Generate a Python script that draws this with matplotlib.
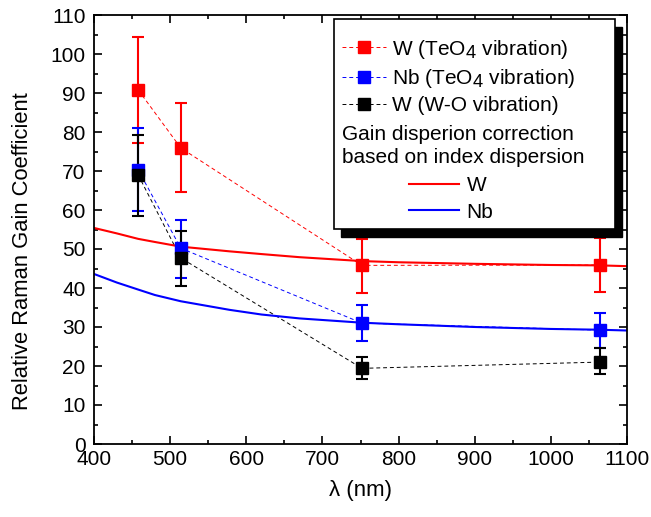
import matplotlib
matplotlib.use("Agg")
import matplotlib.pyplot as plt
import matplotlib._mathtext as mathtext_impl
from matplotlib.lines import Line2D
from matplotlib.patches import Rectangle
from matplotlib.ticker import MultipleLocator

plt.rcParams['font.family'] = ['Liberation Sans', 'DejaVu Sans']
plt.rcParams['mathtext.fontset'] = 'custom'
plt.rcParams['mathtext.rm'] = 'Liberation Sans'
plt.rcParams['mathtext.it'] = 'Liberation Sans:italic'
mathtext_impl.SHRINK_FACTOR = 0.88  # bigger subscript, like the original

# measured points
wl = [458, 514, 752, 1064]

w_teo4 = [90.8, 75.9, 45.8, 45.9]
w_teo4_lo = [77.2, 64.5, 38.8, 38.9]
w_teo4_hi = [104.4, 87.4, 52.6, 52.8]

nb_teo4 = [70.3, 50.2, 31.0, 29.2]
nb_teo4_lo = [59.8, 42.5, 26.3, 24.7]
nb_teo4_hi = [80.9, 57.5, 35.7, 33.6]

w_wo = [69.0, 47.7, 19.4, 21.0]
w_wo_lo = [58.4, 40.4, 16.6, 17.9]
w_wo_hi = [79.2, 54.7, 22.2, 24.5]

# gain dispersion correction curves
wl_fit = [400, 430, 458, 480, 514, 578, 620, 670, 752, 800, 900, 1000, 1064, 1100]
w_fit = [55.4, 54.0, 52.6, 51.8, 50.6, 49.4, 48.7, 47.9, 46.9, 46.6, 46.2, 45.9, 45.8, 45.6]
nb_fit = [43.6, 41.4, 39.6, 38.2, 36.6, 34.4, 33.2, 32.2, 31.1, 30.7, 30.0, 29.5, 29.3, 29.1]

fs = 15

fig = plt.figure(figsize=(6.51, 5.17), dpi=100)
ax = fig.add_axes([94/651, 73/517, 533/651, 429/517])


def err(vals, lo, hi):
    return [[v - l for v, l in zip(vals, lo)], [h - v for v, h in zip(vals, hi)]]


dash = (0, (4, 3))
series = [
    (w_teo4, w_teo4_lo, w_teo4_hi, 'red'),
    (nb_teo4, nb_teo4_lo, nb_teo4_hi, 'blue'),
    (w_wo, w_wo_lo, w_wo_hi, 'black'),
]
for vals, lo, hi, c in series:
    ax.plot(wl, vals, color=c, lw=0.7, linestyle=dash, zorder=2)
    ax.errorbar(wl, vals, yerr=err(vals, lo, hi), fmt='s', color=c, ms=8.5,
                elinewidth=1.5, capsize=4, capthick=1.5, zorder=3)

ax.plot(wl_fit, w_fit, color='red', lw=1.5, zorder=2.5)
ax.plot(wl_fit, nb_fit, color='blue', lw=1.5, zorder=2.5)

ax.set_xlim(400, 1100)
ax.set_ylim(0, 110)
ax.xaxis.set_major_locator(MultipleLocator(100))
ax.xaxis.set_minor_locator(MultipleLocator(50))
ax.yaxis.set_major_locator(MultipleLocator(10))
ax.yaxis.set_minor_locator(MultipleLocator(5))
ax.tick_params(which='both', direction='in', top=True, right=True, width=1.2)
ax.tick_params(which='major', length=6, labelsize=fs, pad=6)
ax.tick_params(axis='x', which='major', pad=4)
ax.tick_params(which='minor', length=3)
for s in ax.spines.values():
    s.set_linewidth(1.3)

ax.set_xlabel('λ (nm)', fontsize=16, labelpad=8)
ax.set_ylabel('Relative Raman Gain Coefficient', fontsize=15.8)
ax.yaxis.set_label_coords(-0.114, 0.45)

# legend box with shadow
ax.add_patch(Rectangle((0.463, 0.483), 0.527, 0.490, transform=ax.transAxes,
                       facecolor='black', edgecolor='black', zorder=4, clip_on=False))
ax.add_patch(Rectangle((0.450, 0.501), 0.527, 0.490, transform=ax.transAxes,
                       facecolor='white', edgecolor='black', lw=1.2, zorder=4.2, clip_on=False))

h1 = [Line2D([], [], color=c, lw=0.7, linestyle=dash, marker='s', ms=8.5)
      for c in ['red', 'blue', 'black']]
leg1 = ax.legend(h1, ['W (TeO$_4$ vibration)', 'Nb (TeO$_4$ vibration)', 'W (W-O vibration)'],
                 loc='upper left', bbox_to_anchor=(0.465, 0.947), frameon=False,
                 fontsize=fs, borderpad=0, borderaxespad=0, handlelength=2.1,
                 handletextpad=0.32, labelspacing=0.3, numpoints=1)
leg1.set_zorder(5)
ax.add_artist(leg1)

ax.text(0.465, 0.7226, 'Gain disperion correction', transform=ax.transAxes,
        fontsize=fs, va='center', ha='left', zorder=5)
ax.text(0.465, 0.6667, 'based on index dispersion', transform=ax.transAxes,
        fontsize=fs, va='center', ha='left', zorder=5)

h2 = [Line2D([], [], color='red', lw=1.5), Line2D([], [], color='blue', lw=1.5)]
leg2 = ax.legend(h2, ['W', 'Nb'], loc='upper left', bbox_to_anchor=(0.591, 0.624),
                 frameon=False, fontsize=fs, borderpad=0, borderaxespad=0,
                 handlelength=2.4, handletextpad=0.36, labelspacing=0.35)
leg2.set_zorder(5)

fig.savefig('out.png', dpi=100)
